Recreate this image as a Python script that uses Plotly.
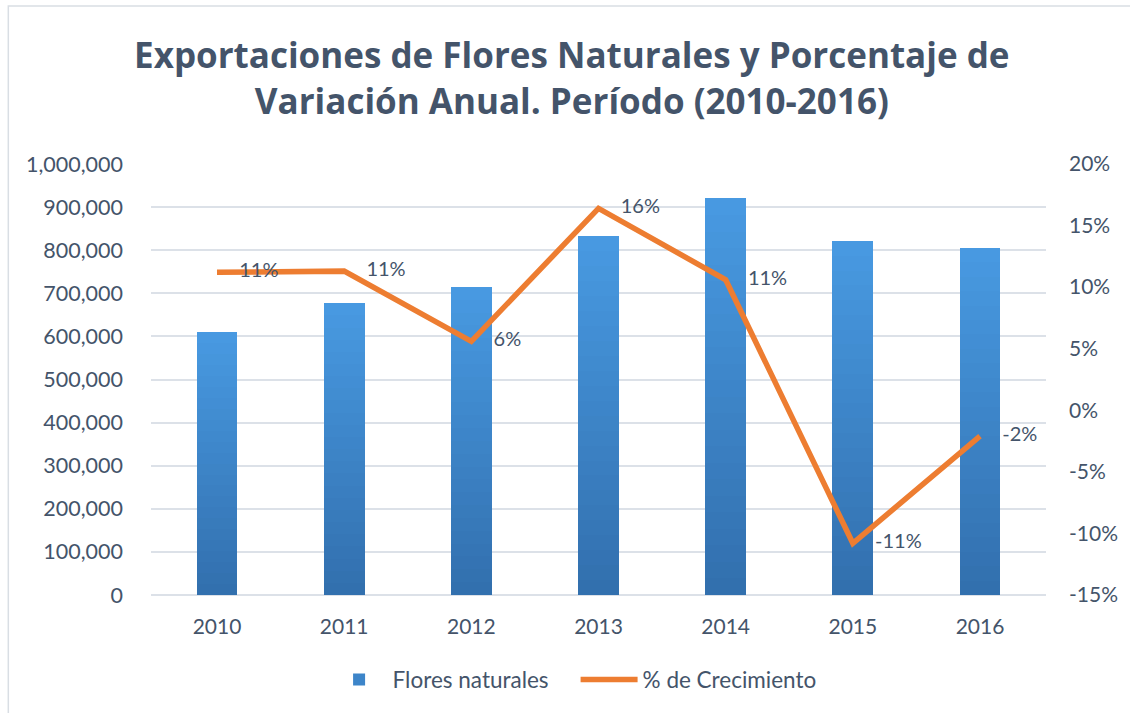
import plotly.graph_objects as go

years = ["2010", "2011", "2012", "2013", "2014", "2015", "2016"]
flores = [610000, 677000, 715000, 832000, 920000, 821000, 806000]
crecimiento = [11.2, 11.3, 5.6, 16.4, 10.6, -10.8, -2.1]
right_ticks = [20, 15, 10, 5, 0, -5, -10, -15]
right_tick_labels = ["20%", "15%", "10%", "5%", "0%", "-5%", "-10%", "-15%"]

FONT = "Lato"
TXT = "#44546A"
GRID = "#DCE1E8"

def lerp(c1, c2, t):
    return "#%02x%02x%02x" % tuple(int(round(a + (b - a) * t)) for a, b in zip(c1, c2))

bottom_c = (0x32, 0x6F, 0xAD)
top_c = (0x48, 0x9A, 0xE2)
N = 24

fig = go.Figure()
for i in range(N):
    t = (i + 0.5) / N
    fig.add_trace(go.Bar(
        x=years, y=[v / N for v in flores],
        marker=dict(color=lerp(bottom_c, top_c, t), line=dict(width=0)),
        name="Flores naturales", legendgroup="flores",
        showlegend=(i == N // 2), hoverinfo="skip" if i else "x+y",
        customdata=flores, hovertemplate="%{x}: %{customdata:,}<extra></extra>",
    ))

fig.add_trace(go.Scatter(
    x=years, y=crecimiento, yaxis="y2", name="% de Crecimiento",
    mode="lines+markers+text",
    line=dict(color="#ED7D31", width=5.5),
    marker=dict(size=34, color="rgba(0,0,0,0)"),
    text=[f"{round(v):.0f}%" for v in crecimiento],
    textposition="middle right",
    textfont=dict(family=FONT, size=20, color=TXT),
))

fig.update_layout(
    width=1130, height=713,
    margin=dict(l=151, r=82, t=164, b=118),
    paper_bgcolor="white", plot_bgcolor="white",
    barmode="stack", bargap=0.68,
    font=dict(family=FONT, size=21, color=TXT),
    title=dict(
        text="Exportaciones de Flores Naturales y Porcentaje de<br>Variación Anual. Período (2010-2016)",
        font=dict(family="Open Sans", size=35, color=TXT, weight="bold"),
        x=0.506, xref="container", xanchor="center",
        y=0.9045, yref="container", yanchor="top",
    ),
    xaxis=dict(showgrid=False, showline=False, ticks="", tickfont=dict(size=21, color=TXT),
               ticklabelstandoff=17),
    yaxis=dict(range=[0, 1000000], dtick=100000, tickformat=",", showgrid=True,
               gridcolor=GRID, gridwidth=1.5, zeroline=True, zerolinecolor=GRID, zerolinewidth=1.5,
               ticks="", tickfont=dict(size=21.5, color=TXT), ticklabelstandoff=27),
    yaxis2=dict(range=[-15, 20], overlaying="y", side="right", tickvals=right_ticks,
                ticktext=right_tick_labels, showgrid=False, zeroline=False, ticks="",
                tickfont=dict(size=21, color=TXT), ticklabelstandoff=22),
    legend=dict(orientation="h", x=0.4744, xanchor="center", y=-0.197, yanchor="middle",
                font=dict(size=22.5, color=TXT), traceorder="normal", itemwidth=57,
                entrywidth=178),
    showlegend=True,
    shapes=[dict(type="rect", xref="paper", yref="paper",
                 x0=(8 - 151) / 897, x1=(1140 - 151) / 897,
                 y0=(595 - 720) / 431, y1=(595 - 6) / 431,
                 line=dict(color="#D9DEE4", width=1.5), fillcolor="rgba(0,0,0,0)", layer="below")],
)

fig.write_html("out.html", config={"displayModeBar": False},
               post_script="document.body.style.margin='0';")
